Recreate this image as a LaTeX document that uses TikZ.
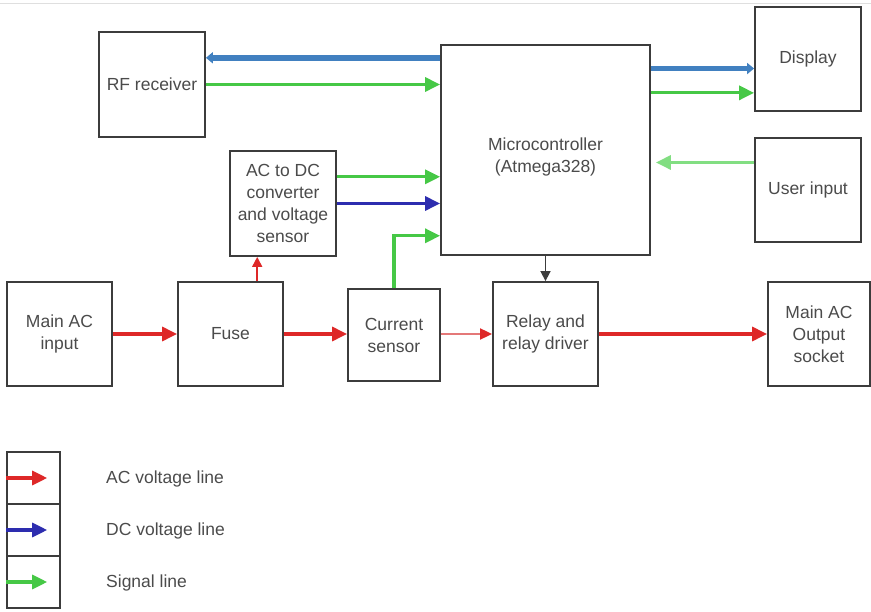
\documentclass[tikz,border=0pt]{standalone}
\usepackage{fontspec}
\setmainfont{Liberation Sans}
\usepackage{tikz}
\usetikzlibrary{arrows.meta, positioning, calc}
\usepackage{xcolor}
\definecolor{acred}{RGB}{222, 40, 40}
\definecolor{acpink}{RGB}{228, 120, 120}
\definecolor{dcblue}{RGB}{45, 45, 175}
\definecolor{sigreen}{RGB}{70, 200, 70}
\definecolor{sigpale}{RGB}{130, 222, 130}
\definecolor{busblue}{RGB}{65, 128, 192}
\definecolor{boxgray}{RGB}{60, 60, 60}
\definecolor{txtgray}{RGB}{75, 75, 75}

\tikzset{
  blk/.style={draw=boxgray, line width=1.8pt, fill=white, text=txtgray, align=center,
    inner sep=2pt, font=\fontsize{17.5}{22}\selectfont},
  lbl/.style={text=txtgray, font=\fontsize{17.5}{22}\selectfont, anchor=west, inner sep=0pt},
  acline/.style={draw=acred, line width=3.2pt, -{Triangle[length=15pt, width=14pt]}},
  dcline/.style={draw=dcblue, line width=3.2pt, -{Triangle[length=15pt, width=14pt]}},
  sigline/.style={draw=sigreen, line width=3.2pt, -{Triangle[length=15pt, width=14pt]}},
  busline/.style={draw=busblue, line width=5.5pt, -{Triangle[length=7pt, width=11pt]}}
}

\begin{document}
\begin{tikzpicture}[x=1pt, y=-1pt]
  \useasboundingbox (0,0) rectangle (871,612);
  \draw[gray!25, line width=1pt] (0,4) -- (871,4);

  % blocks
  \node[blk, minimum width=106pt, minimum height=105pt] (rf) at (152,84.5) {RF receiver};
  \node[blk, minimum width=209pt, minimum height=210pt] (mcu) at (545.5,150) {\rule{0pt}{26pt}Microcontroller\\(Atmega328)};
  \node[blk, minimum width=106pt, minimum height=104pt] (dsp) at (808,59) {Display};
  \node[blk, minimum width=106pt, minimum height=104pt] (user) at (808,190) {User input};
  \node[blk, minimum width=106pt, minimum height=105pt] (acdc) at (283,203.5) {AC to DC\\converter\\and voltage\\sensor};
  \node[blk, minimum width=105pt, minimum height=104pt] (acin) at (59.5,334) {Main AC\\input};
  \node[blk, minimum width=105pt, minimum height=104pt] (fuse) at (230.5,334) {Fuse};
  \node[blk, minimum width=92pt, minimum height=92pt] (cur) at (394,335) {Current\\sensor};
  \node[blk, minimum width=105pt, minimum height=104pt] (relay) at (545.5,334) {Relay and\\relay driver};
  \node[blk, minimum width=102pt, minimum height=104pt] (acout) at (819,334) {Main AC\\Output\\socket};

  % tap points
  \coordinate (rfb) at ($(rf.north east)!0.25!(rf.south east)$);
  \coordinate (dspb) at ($(dsp.north west)!0.59!(dsp.south west)$);
  \coordinate (dspg) at ($(dsp.north west)!0.82!(dsp.south west)$);
  \coordinate (userg) at ($(user.north west)!0.24!(user.south west)$);
  \coordinate (acdcg) at ($(acdc.north east)!0.25!(acdc.south east)$);
  \coordinate (mcucs) at ($(mcu.north west)!0.905!(mcu.south west)$);
  \coordinate (fusetap) at ($(fuse.north west)!0.75!(fuse.north east)$);

  % connectors
  \draw[busline] (mcu.west |- rfb) -- (rfb);
  \draw[sigline] (rf.east) -- (mcu.west |- rf.east);
  \draw[busline] (mcu.east |- dspb) -- (dspb);
  \draw[sigline] (mcu.east |- dspg) -- (dspg);
  \draw[draw=sigpale, line width=3.2pt, -{Triangle[length=15pt, width=14pt]}, shorten >=5pt] (userg) -- (mcu.east |- userg);
  \draw[sigline] (acdcg) -- (mcu.west |- acdcg);
  \draw[dcline] (acdc.east) -- (mcu.west |- acdc.east);
  \draw[sigline] (cur.north) |- (mcucs);
  \draw[draw=boxgray, line width=1.6pt, -{Triangle[length=10pt, width=10pt]}] (mcu.south) -- (relay.north);
  \draw[draw=acred, line width=1.6pt, -{Triangle[length=10pt, width=10pt]}] (fusetap) -- (fusetap |- acdc.south);
  \draw[acline] (acin.east) -- (fuse.west);
  \draw[acline] (fuse.east) -- (cur.west |- fuse.east);
  \draw[draw=acpink, line width=1.8pt, -{Triangle[length=12pt, width=11pt, color=acred]}] (cur.east |- relay.west) -- (relay.west);
  \draw[acline] (relay.east) -- (acout.west);

  % legend
  \node[blk, minimum width=53pt, minimum height=52pt] (legac) at (33.5,478) {};
  \node[blk, minimum width=53pt, minimum height=52pt] (legdc) at (33.5,530) {};
  \node[blk, minimum width=53pt, minimum height=52pt] (legsig) at (33.5,582) {};
  \draw[acline] (legac.west) -- ($(legac.west)!0.75!(legac.east)$);
  \draw[dcline] (legdc.west) -- ($(legdc.west)!0.75!(legdc.east)$);
  \draw[sigline] (legsig.west) -- ($(legsig.west)!0.75!(legsig.east)$);
  \node[lbl] (legactxt) at (106,479) {AC voltage line};
  \node[lbl] (legdctxt) at (106,531) {DC voltage line};
  \node[lbl] (legsigtxt) at (106,583) {Signal line};
\end{tikzpicture}
\end{document}
